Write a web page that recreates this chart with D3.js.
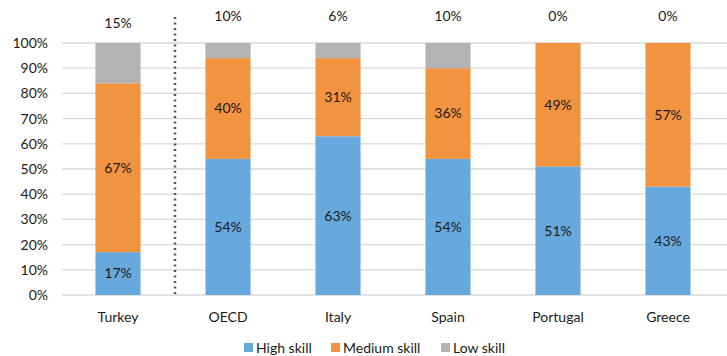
<!DOCTYPE html>
<html><head><meta charset="utf-8">
<script src="https://cdn.jsdelivr.net/npm/d3@7"></script>
<style>body{margin:0;background:#fff}svg{display:block;font-family:Lato,"Open Sans",sans-serif}</style>
</head><body><svg id="c" width="727" height="356"></svg>
<script>
const categories = ["Turkey","OECD","Italy","Spain","Portugal","Greece"];
const highSkill = [17,54,63,54,51,43];
const mediumSkill = [67,40,31,36,49,57];
const lowSkill = [16,6,6,10,0,0];
const topLabels = ["15%","10%","6%","10%","0%","0%"];
const yTicks = [0,10,20,30,40,50,60,70,80,90,100];
const seriesNames = ["High skill","Medium skill","Low skill"];
const colors = ["#68a9dd","#f29340","#b3b3b3"];
const FS = 14, TC = "#1a1a1a";

const svg = d3.select("#c");
const x = d3.scaleBand().domain(categories).range([63,723]).paddingInner(0.59).paddingOuter(0.295);
const y = d3.scaleLinear().domain([0,100]).range([295,43]);

svg.append("g").selectAll("line").data(yTicks).join("line")
  .attr("x1",62).attr("x2",727).attr("y1",d=>y(d)).attr("y2",d=>y(d))
  .attr("stroke","#d9d9d9").attr("stroke-width",1.3);

const yAxis = d3.axisLeft(y).tickValues(yTicks).tickFormat(d=>d+"%").tickSize(0).tickPadding(0);
const ya = svg.append("g").attr("transform","translate(48,0)").call(yAxis);
ya.select(".domain").remove();
ya.selectAll("text").attr("font-size",FS).attr("fill",TC).attr("font-family","Lato,sans-serif");

const rows = categories.map((c,i)=>({cat:c,high:highSkill[i],medium:mediumSkill[i],low:lowSkill[i]}));
const stack = d3.stack().keys(["high","medium","low"])(rows);
stack.forEach((s,si)=>{
  svg.append("g").selectAll("rect").data(s).join("rect")
    .attr("x",d=>x(d.data.cat)).attr("width",x.bandwidth())
    .attr("y",d=>y(d[1])).attr("height",d=>Math.max(0,y(d[0])-y(d[1])))
    .attr("fill",colors[si]);
});
stack.slice(0,2).forEach(s=>{
  svg.append("g").selectAll("text").data(s).join("text")
    .attr("x",d=>x(d.data.cat)+x.bandwidth()/2)
    .attr("y",d=>(y(d[0])+y(d[1]))/2).attr("dy","0.35em")
    .attr("text-anchor","middle").attr("font-size",FS).attr("fill",TC)
    .text(d=>(d[1]-d[0])+"%");
});
svg.append("g").selectAll("text").data(categories).join("text")
  .attr("x",d=>x(d)+x.bandwidth()/2)
  .attr("y",(d,i)=>i===0?23:16).attr("dy","0.35em")
  .attr("text-anchor","middle").attr("font-size",FS).attr("fill",TC)
  .text((d,i)=>topLabels[i]);

const sepX = (x("Turkey")+x.bandwidth()+x("OECD"))/2 + 2;
svg.append("line").attr("x1",sepX).attr("x2",sepX).attr("y1",17).attr("y2",296)
  .attr("stroke","#555").attr("stroke-width",2.5).attr("stroke-dasharray","2,3.5");

const xAxis = d3.axisBottom(x).tickSize(0).tickPadding(0);
const xa = svg.append("g").attr("transform","translate(0,317)").call(xAxis);
xa.select(".domain").remove();
xa.selectAll("text").attr("font-size",FS).attr("fill",TC).attr("font-family","Lato,sans-serif").attr("dy","0.35em");

const legX = [244,331,441];
const lg = svg.append("g").selectAll("g").data(seriesNames).join("g")
  .attr("transform",(d,i)=>`translate(${legX[i]},348)`);
lg.append("rect").attr("x",0).attr("y",-5).attr("width",9).attr("height",9).attr("fill",(d,i)=>colors[i]);
lg.append("text").attr("x",12).attr("dy","0.35em").attr("font-size",FS).attr("fill",TC).text(d=>d);
</script></body></html>
